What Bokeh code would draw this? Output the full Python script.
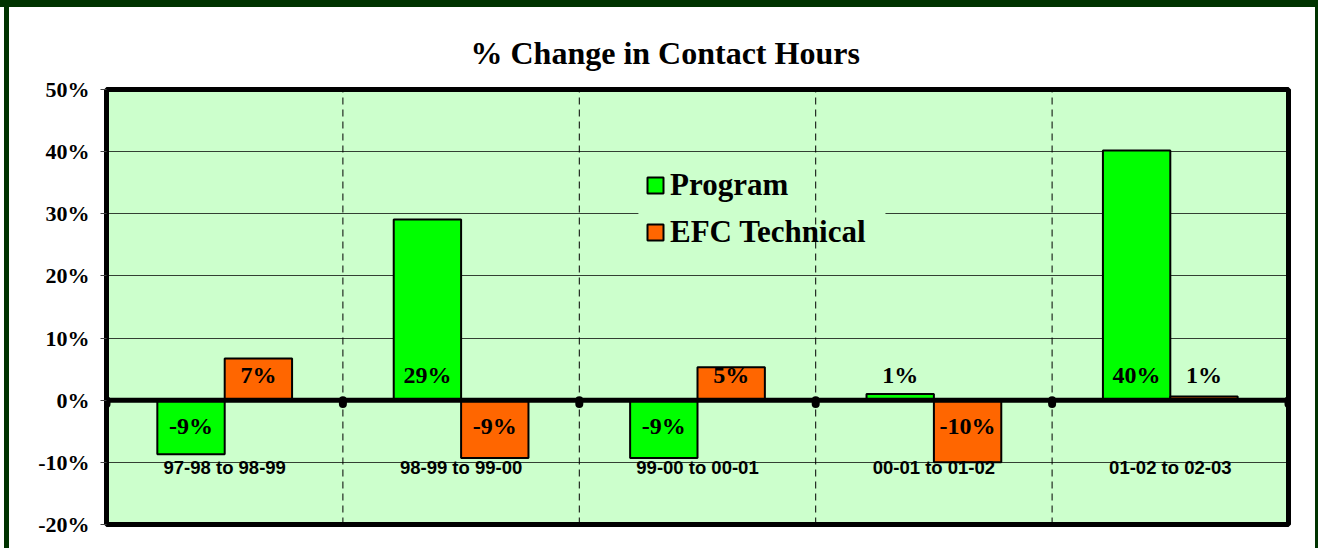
from bokeh.plotting import figure
from bokeh.models import Range1d, FixedTicker, Legend, LegendItem, Span, BoxAnnotation
from bokeh.core.properties import value
from bokeh.embed import file_html
from bokeh.resources import INLINE

categories = ["97-98 to 98-99", "98-99 to 99-00", "99-00 to 00-01", "00-01 to 01-02", "01-02 to 02-03"]
program = [-8.7, 29.1, -9.3, 1.0, 40.2]
efc_technical = [6.7, -9.3, 5.3, -10.0, 0.6]
program_labels = ["-9%", "29%", "-9%", "1%", "40%"]
efc_labels = ["7%", "-9%", "5%", "-10%", "1%"]
y_ticks = [-20, -10, 0, 10, 20, 30, 40, 50]
y_tick_labels = ["-20%", "-10%", "0%", "10%", "20%", "30%", "40%", "50%"]
title_text = "% Change in Contact Hours"

n = len(categories)
bar_w = 0.285
centers = [i + 0.5 for i in range(n)]
prog_x = [c - bar_w / 2 for c in centers]
efc_x = [c + bar_w / 2 for c in centers]

SERIF = "Liberation Serif"
SANS = "Liberation Sans"
BG = "#CCFFCC"

p = figure(width=1318, height=548, x_range=Range1d(0, n), y_range=Range1d(y_ticks[0], y_ticks[-1]),
           output_backend="svg", toolbar_location=None,
           min_border_left=106, min_border_right=30, min_border_top=89, min_border_bottom=24)

p.styles = {
    "background-color": "white",
    "box-shadow": ("inset 0 7px 0 0 #003300, inset 4px 0 0 0 white, "
                   "inset 9px 0 0 0 #003300, inset -3px 0 0 0 #003300"),
}

p.title.text = title_text
p.title.text_font = SERIF
p.title.text_font_style = "bold"
p.title.text_font_size = "32px"
p.title.align = "left"
p.title.offset = 364
p.title.standoff = 37
p.title.text_color = "black"

p.background_fill_color = BG
p.border_fill_color = "white"
p.border_fill_alpha = 0
p.outline_line_color = "black"
p.outline_line_width = 5

p.xaxis.visible = False
p.xgrid.visible = False
p.ygrid.ticker = FixedTicker(ticks=y_ticks)
p.ygrid.grid_line_color = "black"
p.ygrid.grid_line_alpha = 0.75
p.ygrid.grid_line_width = 1

ax = p.yaxis[0]
ax.ticker = FixedTicker(ticks=y_ticks)
ax.major_label_overrides = {t: l for t, l in zip(y_ticks, y_tick_labels)}
ax.major_label_text_font = SERIF
ax.major_label_text_font_style = "bold"
ax.major_label_text_font_size = "22px"
ax.major_label_text_color = "black"
ax.axis_line_color = None
ax.major_tick_out = 6
ax.major_tick_in = 0
ax.major_tick_line_color = "#444444"
ax.minor_tick_line_color = None
ax.major_label_standoff = 11

# legend backdrop: hides the gridline behind the legend but not the dashed separator
p.add_layout(BoxAnnotation(left=2.25, right=3.295, bottom=23.3, top=38.5,
                           fill_color=BG, fill_alpha=1, line_color=None, level="underlay"))

sep = list(range(1, n))
p.segment(x0=sep, y0=[y_ticks[0]] * len(sep), x1=sep, y1=[y_ticks[-1]] * len(sep),
          line_color="black", line_width=1, line_dash="7 5")

r_prog = p.vbar(x=prog_x, top=program, bottom=0, width=bar_w,
                fill_color="#00FF00", line_color="black", line_width=2)
r_efc = p.vbar(x=efc_x, top=efc_technical, bottom=0, width=bar_w,
               fill_color="#FF6600", line_color="black", line_width=2)

p.add_layout(Span(location=0, dimension="width", line_color="black", line_width=5))
ticks_x = list(range(0, n + 1))
p.segment(x0=ticks_x, y0=[0] * len(ticks_x), x1=ticks_x, y1=[-0.6] * len(ticks_x),
          line_color="black", line_width=8, line_cap="round")

lab_x = prog_x + efc_x
lab_v = program + efc_technical
lab_t = program_labels + efc_labels
lab_y = [4.0 if v > 0 else -4.2 for v in lab_v]
p.text(x=lab_x, y=lab_y, text=lab_t, text_align="center", text_baseline="middle",
       text_font=value(SERIF), text_font_style="bold", text_font_size="24px", text_color="black")

p.text(x=centers, y=[-10.8] * n, text=categories, text_align="center", text_baseline="middle",
       text_font=value(SANS), text_font_style="bold", text_font_size="18.5px", text_color="black")

legend = Legend(items=[LegendItem(label="Program", renderers=[r_prog]),
                       LegendItem(label="EFC Technical", renderers=[r_efc])],
                location=(539, 274), background_fill_alpha=0,
                border_line_color=None, label_text_font=SERIF, label_text_font_style="bold",
                label_text_font_size="31px", label_text_color="black",
                glyph_width=20, glyph_height=20, label_width=212,
                label_standoff=5, padding=13, spacing=11, margin=0)
p.add_layout(legend)

open("out.html", "w").write(file_html(p, INLINE))
